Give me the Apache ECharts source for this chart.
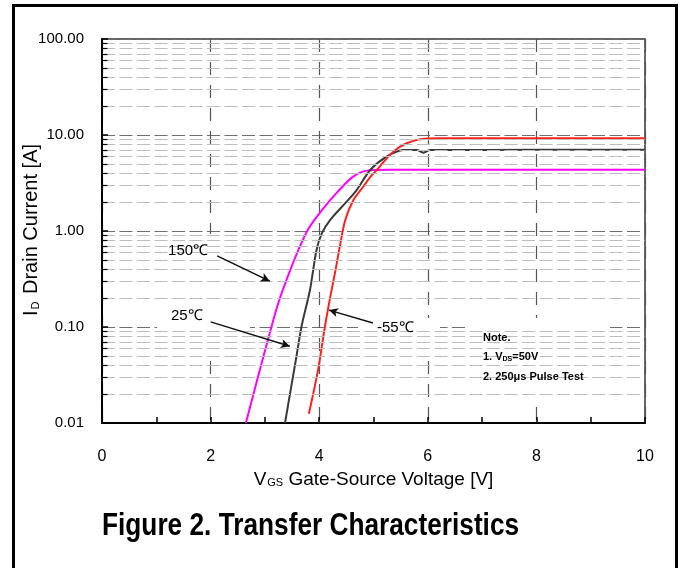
<!DOCTYPE html>
<html><head><meta charset="utf-8">
<script src="https://cdn.jsdelivr.net/npm/echarts@6/dist/echarts.min.js"></script>
<style>html,body{margin:0;padding:0;background:#fff}#c{width:685px;height:568px}</style>
</head><body><div id="c"></div>
<script>
// ---- data ----
const vgs150 = [2.65, 2.85, 3.06, 3.25, 3.45, 3.62, 3.80, 4.05, 4.35, 4.60, 4.80, 5.00, 5.3, 8.0, 10.0];
const id150  = [0.01, 0.027, 0.075, 0.18, 0.37, 0.64, 1.05, 1.65, 2.60, 3.60, 4.15, 4.32, 4.35, 4.35, 4.35];
const vgs25  = [3.37, 3.58, 3.68, 3.83, 3.95, 4.05, 4.20, 4.48, 4.69, 4.94, 5.24, 5.55, 5.80, 5.92, 6.04, 8.0, 10.0];
const id25   = [0.01, 0.049, 0.105, 0.243, 0.63, 0.95, 1.30, 1.95, 2.67, 4.32, 5.94, 6.98, 6.98, 6.55, 6.98, 7.0, 7.0];
const vgsM55 = [3.81, 3.98, 4.11, 4.20, 4.30, 4.38, 4.48, 4.63, 4.81, 4.95, 5.06, 5.18, 5.30, 5.45, 5.61, 5.80, 6.00, 6.20, 8.0, 10.0];
const idM55  = [0.0125, 0.036, 0.105, 0.20, 0.39, 0.69, 1.30, 2.10, 2.89, 3.70, 4.32, 5.20, 6.20, 7.30, 8.20, 8.90, 9.20, 9.25, 9.25, 9.25];

const yTickLabels = ['0.01', '0.10', '1.00', '10.00', '100.00'];
const decades = [0.01, 0.1, 1, 10];
const minorMultipliers = [2, 3, 4, 5, 6, 7, 8, 9];
const curveNames = ['150\u2103', '25\u2103', '-55\u2103'];
const arrow150 = [[2.12, 0.55], [3.09, 0.30]];
const arrow25  = [[2.00, 0.113], [3.46, 0.063]];
const arrowM55 = [[4.99, 0.110], [4.18, 0.150]];
const noteLines = ['Note.', '1. V{s|DS}=50V', '2. 250\u03bcs Pulse Test'];

const SANS = "'Liberation Sans',Arial,sans-serif";
const pairs = (xs, ys) => xs.map((x, i) => [x, ys[i]]);

const minorVals = [];
decades.forEach(d => minorMultipliers.forEach(m => minorVals.push(+(d * m).toPrecision(3))));

const chart = echarts.init(document.getElementById('c'), null, {renderer: 'canvas'});

function arrowLine(a) {
  return {
    silent: true, symbol: ['none', 'arrow'], symbolSize: [7, 9], animation: false,
    label: {show: false},
    lineStyle: {color: '#111', width: 1.5, type: 'solid'},
    data: [[{coord: a[0]}, {coord: a[1]}]]
  };
}

const option = {
  backgroundColor: '#fff',
  animation: false,
  grid: {left: 102, right: 40, top: 39, bottom: 145, show: true, borderColor: '#333', borderWidth: 1.5, containLabel: false},
  xAxis: {
    type: 'value', min: 0, max: 10, interval: 2,
    axisLine: {show: true, onZero: false, lineStyle: {color: '#000', width: 2}},
    axisTick: {show: true, inside: true, length: 6, lineStyle: {color: '#000', width: 1.5}},
    minorTick: {show: true, splitNumber: 2, length: 6, lineStyle: {color: '#000', width: 1.5}},
    splitLine: {show: true, lineStyle: {color: '#555', width: 1.2, type: [13, 10]}},
    axisLabel: {fontFamily: SANS, fontSize: 16, color: '#000', margin: 26},
    name: 'V{s|GS} Gate-Source Voltage [V]', nameLocation: 'middle', nameGap: 38,
    nameTextStyle: {fontFamily: SANS, fontSize: 19, color: '#000',
      rich: {s: {fontFamily: SANS, fontSize: 11, color: '#000', padding: [8, 0, 0, 1]}}}
  },
  yAxis: {
    type: 'log', logBase: 10, min: 0.01, max: 100,
    axisLine: {show: true, lineStyle: {color: '#000', width: 2}},
    axisTick: {show: true, inside: true, length: 6, lineStyle: {color: '#000', width: 1.5}},
    splitLine: {show: true, lineStyle: {color: '#6e6e6e', width: 1.2, type: [13, 4.5]}},
    axisLabel: {fontFamily: SANS, fontSize: 15, color: '#000', margin: 18,
      formatter: v => yTickLabels[Math.round(Math.log10(v)) + 2]}
  },
  series: [
    { // minor grid lines
      type: 'line', z: 0, data: [], symbol: 'none', silent: true,
      markLine: {
        silent: true, symbol: 'none', animation: false, label: {show: false},
        lineStyle: {color: '#bdbdbd', width: 1.2, type: [13, 4.5]},
        data: minorVals.map(v => ({yAxis: v}))
      }
    },
    { // minor y ticks
      type: 'line', z: 1, data: [], symbol: 'none', silent: true,
      markLine: {
        silent: true, symbol: 'none', animation: false, label: {show: false},
        lineStyle: {color: '#000', width: 1.2, type: 'solid'},
        data: minorVals.map(v => [{coord: [0, v]}, {coord: [0.1, v]}])
      }
    },
    {name: curveNames[0], type: 'line', z: 4, smooth: 0.3, symbol: 'none', data: pairs(vgs150, id150),
      lineStyle: {color: '#ff00ff', width: 2}, markLine: arrowLine(arrow150)},
    {name: curveNames[1], type: 'line', z: 4, smooth: 0.3, symbol: 'none', data: pairs(vgs25, id25),
      lineStyle: {color: '#3a3a3a', width: 2}, markLine: arrowLine(arrow25)},
    {name: curveNames[2], type: 'line', z: 4, smooth: 0.3, symbol: 'none', data: pairs(vgsM55, idM55),
      lineStyle: {color: '#ff2020', width: 2}, markLine: arrowLine(arrowM55)}
  ]
};
chart.setOption(option);

const p150 = chart.convertToPixel({gridIndex: 0}, arrow150[0]);
const p25 = chart.convertToPixel({gridIndex: 0}, arrow25[0]);
const pM55 = chart.convertToPixel({gridIndex: 0}, arrowM55[0]);

const txt = (x, y, text, extra, sx) => ({type: 'text', z: 10, x: x, y: y, scaleX: sx || 1,
  style: Object.assign({text: text, fontFamily: SANS, fontSize: 15, fill: '#000', align: 'left', verticalAlign: 'middle'}, extra || {})});
const NOTE = {fontSize: 11, fontWeight: 'bold', fontFamily: SANS};

chart.setOption({
  graphic: [
    // outer frame
    {type: 'rect', z: 0, shape: {x: 13.5, y: 5.5, width: 663, height: 620}, style: {fill: null, stroke: '#000', lineWidth: 3}, silent: true},
    // white label backgrounds clearing the grid
    {type: 'rect', z: 1, shape: {x: 157, y: 234, width: 93, height: 121}, style: {fill: '#fff'}, silent: true},
    {type: 'rect', z: 1, shape: {x: 358, y: 318, width: 82, height: 39}, style: {fill: '#fff'}, silent: true},
    {type: 'rect', z: 1, shape: {x: 465, y: 318, width: 145, height: 82}, style: {fill: '#fff'}, silent: true},
    // curve labels
    txt(p150[0] - 9, p150[1] - 5, curveNames[0], {align: 'right'}),
    txt(p25[0] - 8, p25[1] - 6, curveNames[1], {align: 'right'}),
    txt(pM55[0] + 4, pM55[1] + 5, curveNames[2]),
    // note
    txt(483, 338, noteLines[0], NOTE),
    txt(483, 357, noteLines[1], Object.assign({rich: {s: {fontSize: 7, fontWeight: 'bold', fontFamily: SANS, padding: [5, 0, 0, 0]}}}, NOTE)),
    txt(483, 377, noteLines[2], NOTE),
    // y axis title
    {type: 'text', z: 10, x: 31, y: 230, rotation: Math.PI / 2,
      style: {text: 'I{s|D} Drain Current [A]', fontFamily: SANS, fontSize: 20, fill: '#000', align: 'center', verticalAlign: 'middle',
        rich: {s: {fontFamily: SANS, fontSize: 11, fill: '#000', padding: [9, 2, 0, 1]}}}},
    // figure title
    txt(102, 526, 'Figure 2. Transfer Characteristics', {fontSize: 32, fontWeight: 'bold'}, 0.82)
  ]
});
</script></body></html>
